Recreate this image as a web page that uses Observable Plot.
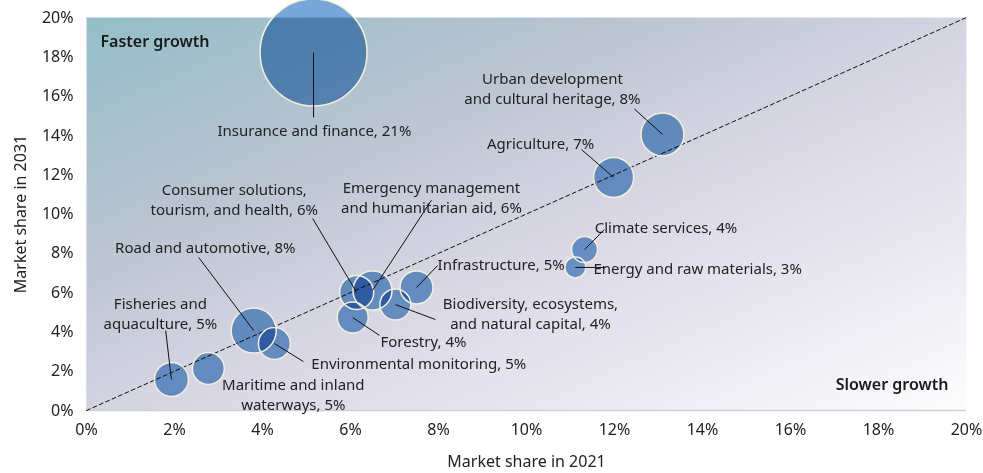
<!DOCTYPE html>
<html><head><meta charset="utf-8">
<script src="https://cdn.jsdelivr.net/npm/d3@7"></script>
<script src="https://cdn.jsdelivr.net/npm/@observablehq/plot@0.6"></script>
<style>body{margin:0;background:#fff;} svg{display:block;}</style>
</head><body><div id="chart"></div>
<script>
// Sectors (drawing order)
const sectors = ["Insurance and finance","Urban development and cultural heritage","Agriculture","Climate services","Energy and raw materials","Consumer solutions, tourism, and health","Emergency management and humanitarian aid","Forestry","Biodiversity, ecosystems, and natural capital","Infrastructure","Road and automotive","Environmental monitoring","Maritime and inland waterways","Fisheries and aquaculture"];
const share2021 = [5.16, 13.09, 11.98, 11.32, 11.11, 6.14, 6.50, 6.05, 7.02, 7.50, 3.80, 4.27, 2.77, 1.93];
const share2031 = [18.22, 14.05, 11.86, 8.19, 7.28, 6.01, 6.11, 4.73, 5.39, 6.26, 4.07, 3.41, 2.14, 1.58];
const marketSize = [100, 16.1, 14.0, 5.9, 3.85, 10.1, 13.3, 8.4, 8.4, 9.5, 17.7, 8.9, 8.9, 10.1];
const growth = [21, 8, 7, 4, 3, 6, 6, 4, 4, 5, 8, 5, 5, 5];
const labelText = ["Insurance and finance, 21%","Urban development\nand cultural heritage, 8%","Agriculture, 7%","Climate services, 4%","Energy and raw materials, 3%","Consumer solutions,\ntourism, and health, 6%","Emergency management\nand humanitarian aid, 6%","Forestry, 4%","Biodiversity, ecosystems,\nand natural capital, 4%","Infrastructure, 5%","Road and automotive, 8%","Environmental monitoring, 5%","Maritime and inland\nwaterways, 5%","Fisheries and\naquaculture, 5%"];
// annotation placement (data units)
const labelX = [5.18, 10.59, 10.32, 11.55, 11.52, 3.36, 7.84, 6.68, 10.09, 7.98, 2.70, 5.11, 4.70, 1.68];
const labelY = [14.30, 16.44, 13.64, 9.36, 7.28, 10.79, 10.89, 3.56, 4.99, 7.48, 8.35, 2.44, 0.87, 4.99];
const labelAlign = ["middle","middle","middle","start","start","middle","middle","start","middle","start","middle","start","middle","middle"];
const leaderX = [5.16, 12.45, 11.25, 11.77, 11.80, 5.14, 7.84, 6.66, 7.93, 7.98, 2.55, 4.93, null, 1.80];
const leaderY = [14.91, 15.35, 13.28, 9.21, 7.28, 9.77, 10.70, 3.82, 4.63, 7.38, 7.79, 2.49, null, 4.07];
const xTicks = [0, 2, 4, 6, 8, 10, 12, 14, 16, 18, 20];
const yTicks = [0, 2, 4, 6, 8, 10, 12, 14, 16, 18, 20];

const data = sectors.map((s, i) => ({
  sector: s, x: share2021[i], y: share2031[i], size: marketSize[i], growth: growth[i],
  label: labelText[i], lx: labelX[i], ly: labelY[i], anchor: labelAlign[i],
  sx: leaderX[i], sy: leaderY[i]
}));
const leaders = data.filter(d => d.sx != null);
const FONT = "Noto Sans";

const svg = Plot.plot({
  width: 983, height: 473,
  marginLeft: 86, marginRight: 17, marginTop: 17, marginBottom: 63,
  style: {fontFamily: FONT, fontSize: "16px", color: "#222", background: "#fff"},
  x: {domain: [0, 20], ticks: xTicks, tickFormat: d => d + "%", tickSize: 0, tickPadding: 13,
      label: "Market share in 2021", labelAnchor: "center", labelOffset: 56, labelArrow: false},
  y: {domain: [0, 20], ticks: yTicks, tickFormat: d => d + "%", tickSize: 0, tickPadding: 13,
      label: "Market share in 2031", labelAnchor: "center", labelOffset: 72, labelArrow: false},
  r: {type: "sqrt", domain: [0, 100], range: [0, 53.5]},
  marks: [
    Plot.frame({fill: "url(#bgGrad)", stroke: null}),
    Plot.ruleY([0], {stroke: "#cfcfd6", strokeWidth: 1.5}),
    Plot.ruleX([0], {stroke: "#dcdce2", strokeWidth: 1}),
    Plot.line([[0, 0], [20, 20]], {stroke: "#111", strokeWidth: 1, strokeDasharray: "4,3"}),
    Plot.dot(data, {x: "x", y: "y", r: "size", fill: "#76a7d8", fillOpacity: 1,
      stroke: "none", mixBlendMode: "multiply", sort: null}),
    Plot.dot(data, {x: "x", y: "y", r: "size", fill: "none",
      stroke: "#f3efdc", strokeWidth: 1.5, sort: null}),
    Plot.link(leaders, {x1: "sx", y1: "sy", x2: "x", y2: "y", stroke: "#111", strokeWidth: 1}),
    Plot.text(data.filter(d => d.anchor === "middle"), {x: "lx", y: "ly", text: "label", textAnchor: "middle",
      lineAnchor: "middle", lineHeight: 1.33, fontSize: 15, fill: "#222"}),
    Plot.text(data.filter(d => d.anchor === "start"), {x: "lx", y: "ly", text: "label", textAnchor: "start",
      lineAnchor: "middle", lineHeight: 1.33, fontSize: 15, fill: "#222"}),
    Plot.text(["Faster growth"], {frameAnchor: "top-left", dx: 14, dy: 24, textAnchor: "start",
      lineAnchor: "middle", fontSize: 16, fontWeight: 600, fill: "#1a1a1a"}),
    Plot.text(["Slower growth"], {frameAnchor: "bottom-right", dx: -18, dy: -26, textAnchor: "end",
      lineAnchor: "middle", fontSize: 16, fontWeight: 600, fill: "#1a1a1a"})
  ]
});

const ns = "http://www.w3.org/2000/svg";
const defs = document.createElementNS(ns, "defs");
defs.innerHTML = `<linearGradient id="bgGrad" x1="0" y1="0" x2="1" y2="1">
  <stop offset="0" stop-color="#93bec8"/>
  <stop offset="0.3" stop-color="#bac4d1"/>
  <stop offset="0.55" stop-color="#d9d7e5"/>
  <stop offset="0.8" stop-color="#ecebf3"/>
  <stop offset="1" stop-color="#fdfdfe"/>
</linearGradient>`;
svg.insertBefore(defs, svg.firstChild);
document.getElementById("chart").appendChild(svg);
</script>
</body></html>
